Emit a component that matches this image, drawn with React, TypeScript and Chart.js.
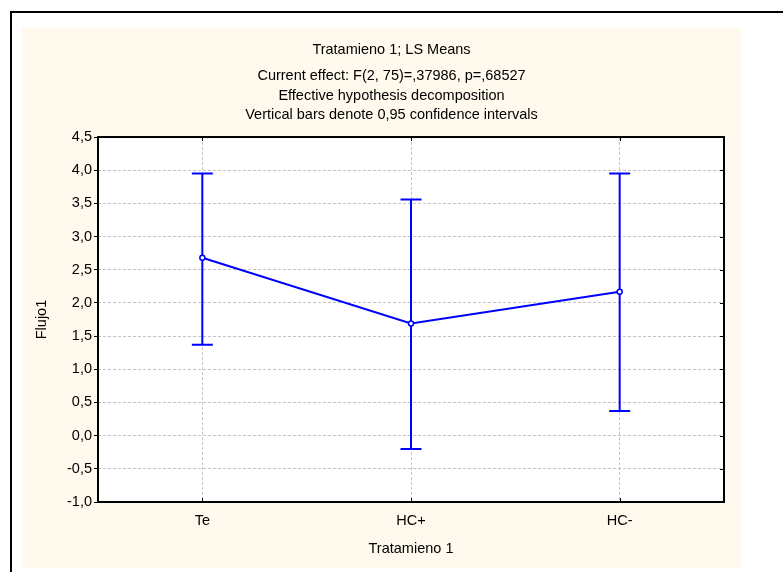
import React, { useEffect, useRef } from 'react';
import { Chart, registerables } from 'chart.js';

Chart.register(...registerables);

const categories = ['Te', 'HC+', 'HC-'];
const means = [2.68, 1.69, 2.17];
const lowerCI = [1.37, -0.2, 0.37];
const upperCI = [3.95, 3.56, 3.95];
const titleText = 'Tratamieno 1; LS Means';
const subtitleLines = [
  'Current effect: F(2, 75)=,37986, p=,68527',
  'Effective hypothesis decomposition',
  'Vertical bars denote 0,95 confidence intervals',
];
const xAxisTitle = 'Tratamieno 1';
const yAxisTitle = 'Flujo1';
const yMin = -1;
const yMax = 4.5;
const yStep = 0.5;

const FONT = "'Liberation Sans', Arial, sans-serif";
const FS = 14.5;
const BLUE = '#0000FF';
const CREAM = '#FFF9EE';

const backgroundPlugin = {
  id: 'bgFrame',
  beforeDraw(chart: any) {
    const { ctx, chartArea, width, height } = chart;
    ctx.save();
    ctx.fillStyle = '#ffffff';
    ctx.fillRect(0, 0, width, height);
    ctx.fillStyle = '#000000';
    ctx.fillRect(10, 11, 2, height - 11);
    ctx.fillRect(10, 11, width - 10, 2);
    ctx.fillStyle = CREAM;
    ctx.fillRect(22, 28, 719, 540);
    ctx.fillStyle = '#ffffff';
    ctx.fillRect(chartArea.left, chartArea.top, chartArea.right - chartArea.left, chartArea.bottom - chartArea.top);
    ctx.restore();
  },
};

const errorBarPlugin = {
  id: 'errorBars',
  beforeDatasetsDraw(chart: any) {
    const { ctx } = chart;
    const xs = chart.scales.x;
    const ys = chart.scales.y;
    ctx.save();
    ctx.strokeStyle = BLUE;
    ctx.lineWidth = 2;
    categories.forEach((c, i) => {
      const x = xs.getPixelForValue(i);
      const yl = ys.getPixelForValue(lowerCI[i]);
      const yu = ys.getPixelForValue(upperCI[i]);
      ctx.beginPath();
      ctx.moveTo(x, yl);
      ctx.lineTo(x, yu);
      ctx.moveTo(x - 10.5, yl);
      ctx.lineTo(x + 10.5, yl);
      ctx.moveTo(x - 10.5, yu);
      ctx.lineTo(x + 10.5, yu);
      ctx.stroke();
    });
    ctx.restore();
  },
};

const framePlugin = {
  id: 'plotFrame',
  afterDraw(chart: any) {
    const { ctx, chartArea } = chart;
    const xs = chart.scales.x;
    const ys = chart.scales.y;
    ctx.save();
    ctx.strokeStyle = '#000000';
    ctx.lineWidth = 1;
    ctx.beginPath();
    categories.forEach((c, i) => {
      const x = Math.round(xs.getPixelForValue(i)) + 0.5;
      ctx.moveTo(x, chartArea.bottom);
      ctx.lineTo(x, chartArea.bottom - 4);
      ctx.moveTo(x, chartArea.top);
      ctx.lineTo(x, chartArea.top + 4);
    });
    ys.ticks.forEach((t: any) => {
      const y = Math.round(ys.getPixelForValue(t.value)) + 0.5;
      ctx.moveTo(chartArea.right, y);
      ctx.lineTo(chartArea.right - 4, y);
    });
    ctx.stroke();
    ctx.lineWidth = 2;
    ctx.strokeRect(chartArea.left, chartArea.top, chartArea.right - chartArea.left, chartArea.bottom - chartArea.top);
    ctx.restore();
  },
};

export default function App() {
  const canvasRef = useRef<HTMLCanvasElement | null>(null);

  useEffect(() => {
    if (!canvasRef.current) return;
    Chart.defaults.font.family = FONT;
    Chart.defaults.color = '#000000';
    const chart = new Chart(canvasRef.current, {
      type: 'line',
      data: {
        labels: categories,
        datasets: [
          {
            data: means,
            borderColor: BLUE,
            borderWidth: 2,
            backgroundColor: '#ffffff',
            pointBackgroundColor: '#ffffff',
            pointBorderColor: BLUE,
            pointBorderWidth: 1.5,
            pointRadius: 2.5,
            tension: 0,
            fill: false,
          },
        ],
      },
      options: {
        responsive: false,
        animation: false,
        layout: { padding: 0 },
        plugins: {
          legend: { display: false },
          tooltip: { enabled: false },
          title: {
            display: true,
            text: titleText,
            color: '#000000',
            font: { family: FONT, size: FS, weight: 'normal', lineHeight: 1.2 },
            padding: { top: 41, bottom: 7.4 },
          },
          subtitle: {
            display: true,
            text: subtitleLines,
            color: '#000000',
            font: { family: FONT, size: FS, weight: 'normal', lineHeight: 1.366 },
            padding: { top: 0, bottom: 11.8 },
          },
        },
        scales: {
          x: {
            type: 'category',
            offset: true,
            grid: {
              display: true,
              offset: false,
              color: '#c4c4c4',
              lineWidth: 1,
              drawTicks: false,
            },
            border: { display: false, dash: [3, 2] },
            ticks: { color: '#000000', font: { family: FONT, size: FS }, padding: 10.4 },
            title: {
              display: true,
              text: xAxisTitle,
              color: '#000000',
              font: { family: FONT, size: FS },
              padding: { top: 0, bottom: 14 },
            },
            afterFit(scale: any) {
              scale.height = 70;
            },
          },
          y: {
            type: 'linear',
            position: 'left',
            min: yMin,
            max: yMax,
            grid: {
              display: true,
              color: '#c4c4c4',
              lineWidth: 1,
              drawTicks: true,
              tickLength: 4,
              tickColor: '#000000',
              tickBorderDash: [],
            },
            border: { display: false, dash: [3, 2] },
            ticks: {
              stepSize: yStep,
              color: '#000000',
              padding: 2,
              font: { family: FONT, size: FS },
              callback: (v: any) => Number(v).toFixed(1).replace('.', ','),
            },
            title: {
              display: true,
              text: yAxisTitle,
              color: '#000000',
              font: { family: FONT, size: FS },
              padding: { top: 33, bottom: 0 },
            },
            afterFit(scale: any) {
              scale.width = 98;
            },
          },
          y2: {
            type: 'linear',
            position: 'right',
            display: true,
            grid: { display: false, drawTicks: false },
            border: { display: false },
            ticks: { display: false },
            afterFit(scale: any) {
              scale.width = 59;
            },
          },
        },
      } as any,
      plugins: [backgroundPlugin, errorBarPlugin, framePlugin],
    });
    return () => chart.destroy();
  }, []);

  return (
    <div style={{ position: 'absolute', left: 0, top: 0, width: 783, height: 572 }}>
      <canvas ref={canvasRef} width={783} height={572} style={{ display: 'block' }} />
    </div>
  );
}
